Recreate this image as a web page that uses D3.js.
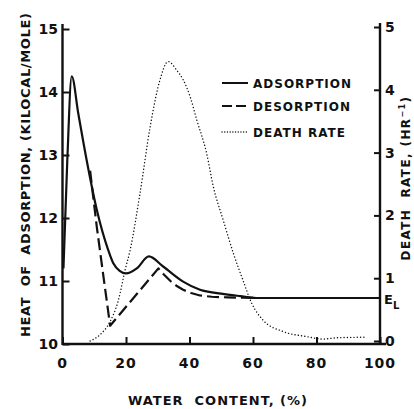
<!DOCTYPE html>
<html>
<head>
<meta charset="utf-8">
<script src="https://cdn.jsdelivr.net/npm/d3@7"></script>
<style>
  html, body { margin: 0; padding: 0; background: #fff; }
  svg { display: block; }
  text { font-family: "DejaVu Sans", sans-serif; font-weight: bold; fill: #111; }
</style>
</head>
<body>
<svg id="chart" width="414" height="409"></svg>
<script>
// Water content (%) and heat of adsorption (kcal/mole)
const adsorptionX = [0.3, 1.5, 2.9, 5, 7.6, 10.8, 14.4, 16, 18, 20, 23.4, 27.2, 31.7, 38, 43.3, 50, 56, 61, 70, 80, 90, 100];
const adsorptionY = [11.2, 12.9, 14.25, 13.65, 12.92, 12.13, 11.49, 11.28, 11.16, 11.12, 11.2, 11.39, 11.23, 10.99, 10.86, 10.8, 10.76, 10.73, 10.73, 10.73, 10.73, 10.73];

const desorptionX = [8.7, 10.8, 12.9, 15, 30.2, 32, 34, 36, 38, 40.5, 43.3, 47, 52, 57, 61];
const desorptionY = [12.75, 11.86, 11.07, 10.29, 11.2, 11.1, 11.0, 10.92, 10.86, 10.81, 10.77, 10.75, 10.74, 10.735, 10.73];

// Death rate (per hour)
const deathX = [8.7, 11.8, 15, 17.6, 19.7, 21.3, 24.4, 27.6, 30.7, 33.3, 36, 38, 40.2, 42.3, 45.4, 47.5, 50.6, 53.8, 56.9, 59.6, 63.2, 69.5, 76.9, 82, 86, 95];
const deathY = [0, 0.1, 0.31, 0.65, 1.13, 1.45, 2.35, 3.41, 4.16, 4.45, 4.31, 4.16, 3.89, 3.52, 2.99, 2.46, 1.93, 1.4, 0.96, 0.6, 0.33, 0.15, 0.07, 0.03, 0.05, 0.06];

const xTicks = [0, 20, 40, 60, 80, 100];
const leftTicks = [10, 11, 12, 13, 14, 15];
const rightTicks = [0, 1, 2, 3, 4, 5];

const legendItems = ["ADSORPTION", "DESORPTION", "DEATH RATE"];

const svg = d3.select("#chart");

const x = d3.scaleLinear().domain([0, 100]).range([62.5, 380]);
const yL = d3.scaleLinear().domain([10, 15]).range([344, 29]);
const yR = d3.scaleLinear().domain([0, 5]).range([341, 27]);

// Axes with inward ticks
const axisG = svg.append("g");

const bottom = axisG.append("g").attr("transform", `translate(0,${yL(10)})`)
  .call(d3.axisTop(x).tickValues(xTicks).tickSize(7).tickFormat(""));
const left = axisG.append("g").attr("transform", `translate(${x(0)},0)`)
  .call(d3.axisRight(yL).tickValues(leftTicks).tickSize(7).tickFormat(""));
const right = axisG.append("g").attr("transform", `translate(${x(100)},0)`)
  .call(d3.axisLeft(yR).tickValues(rightTicks).tickSize(6).tickFormat(""));

[bottom, left, right].forEach(g => {
  g.select(".domain").remove();
  g.selectAll(".tick line").attr("stroke", "#111").attr("stroke-width", 2);
});

// Axis lines
axisG.append("line").attr("x1", x(0)).attr("x2", x(100) + 6).attr("y1", yL(10)).attr("y2", yL(10))
  .attr("stroke", "#111").attr("stroke-width", 2.4);
axisG.append("line").attr("x1", x(0)).attr("x2", x(0)).attr("y1", yL(10) + 1).attr("y2", 24)
  .attr("stroke", "#111").attr("stroke-width", 2.4);
axisG.append("line").attr("x1", x(100)).attr("x2", x(100)).attr("y1", yL(10) + 1).attr("y2", 23)
  .attr("stroke", "#111").attr("stroke-width", 2.4);

// Tick labels
svg.append("g").selectAll("text").data(xTicks).join("text")
  .attr("x", d => x(d)).attr("y", 368).attr("text-anchor", "middle")
  .attr("font-size", 14).attr("letter-spacing", 1).text(d => d);
svg.append("g").selectAll("text").data(leftTicks).join("text")
  .attr("x", 58).attr("y", d => yL(d) + 5).attr("text-anchor", "end")
  .attr("font-size", 14).text(d => d);
svg.append("g").selectAll("text").data(rightTicks).join("text")
  .attr("x", 385).attr("y", d => yR(d) + 5).attr("text-anchor", "start")
  .attr("font-size", 14).text(d => d);

// Axis titles
svg.append("text").attr("x", 128).attr("y", 405)
  .attr("font-size", 13).attr("textLength", 179).attr("xml:space", "preserve")
  .text("WATER  CONTENT, (%)");
svg.append("text").attr("transform", "translate(30,337) rotate(-90)")
  .attr("font-size", 13).attr("textLength", 324).attr("xml:space", "preserve")
  .text("HEAT  OF  ADSORPTION, (KILOCAL/MOLE)");
const rt = svg.append("text").attr("transform", "translate(410,178) rotate(-90)").attr("text-anchor", "middle")
  .attr("font-size", 12).attr("letter-spacing", 1.4).attr("xml:space", "preserve");
rt.append("tspan").text("DEATH  RATE, (HR");
rt.append("tspan").attr("font-size", 8).attr("dy", -5).text("−1");
rt.append("tspan").attr("dy", 5).text(")");

// E_L marker at the limiting heat value
const el = svg.append("text").attr("x", 384).attr("y", yL(10.73) + 6).attr("font-size", 13);
el.append("tspan").text("E");
el.append("tspan").attr("font-size", 10).attr("dy", 5).text("L");

// Curves
const lineL = d3.line().x(d => x(d[0])).y(d => yL(d[1])).curve(d3.curveMonotoneX);
const lineLin = d3.line().x(d => x(d[0])).y(d => yL(d[1])).curve(d3.curveLinear);
const lineR = d3.line().x(d => x(d[0])).y(d => yR(d[1])).curve(d3.curveMonotoneX);

svg.append("path").datum(d3.zip(deathX, deathY)).attr("d", lineR)
  .attr("fill", "none").attr("stroke", "#111").attr("stroke-width", 1.4)
  .attr("stroke-linecap", "round").attr("stroke-dasharray", "0.1 3.2");

svg.append("path").datum(d3.zip(desorptionX, desorptionY)).attr("d", lineLin)
  .attr("fill", "none").attr("stroke", "#111").attr("stroke-width", 2.2)
  .attr("stroke-linejoin", "round").attr("stroke-dasharray", "12 5");

svg.append("path").datum(d3.zip(adsorptionX, adsorptionY)).attr("d", lineL)
  .attr("fill", "none").attr("stroke", "#111").attr("stroke-width", 2.2);

// Legend
const dashes = [null, "10 4", "0.1 2.6"];
const legendY = [83, 106, 132];
const lg = svg.append("g");
legendItems.forEach((name, i) => {
  lg.append("line").attr("x1", 222).attr("x2", 248).attr("y1", legendY[i]).attr("y2", legendY[i])
    .attr("stroke", "#111").attr("stroke-width", i === 2 ? 1.3 : 2)
    .attr("stroke-linecap", i === 2 ? "round" : "butt")
    .attr("stroke-dasharray", dashes[i]);
  lg.append("text").attr("x", 253).attr("y", legendY[i] + 5)
    .attr("font-size", 12).attr("letter-spacing", 1).text(name);
});
</script>
</body>
</html>
